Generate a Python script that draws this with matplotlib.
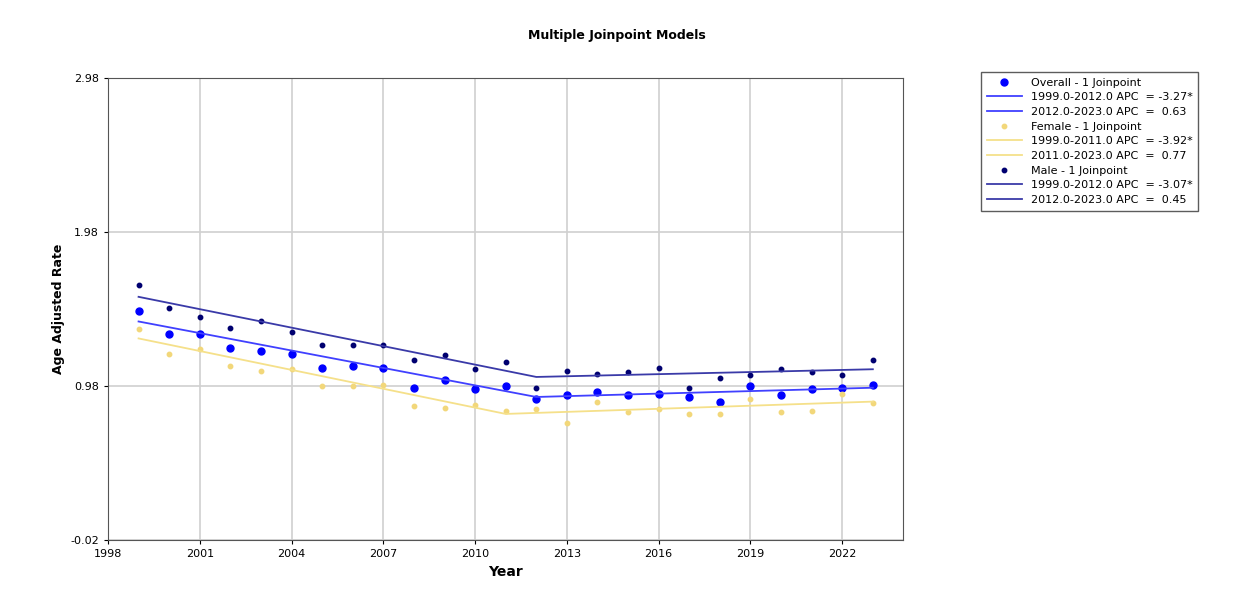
import matplotlib.pyplot as plt

years = list(range(1999, 2024))

overall = [1.47, 1.32, 1.32, 1.23, 1.21, 1.19, 1.10, 1.11, 1.10, 0.97, 1.02, 0.96, 0.98,
           0.90, 0.92, 0.94, 0.92, 0.93, 0.91, 0.88, 0.98, 0.92, 0.96, 0.97, 0.99]
female = [1.35, 1.19, 1.22, 1.11, 1.08, 1.09, 0.98, 0.98, 0.99, 0.85, 0.84, 0.86, 0.82,
          0.83, 0.74, 0.88, 0.81, 0.83, 0.80, 0.80, 0.90, 0.81, 0.82, 0.93, 0.87]
male = [1.64, 1.49, 1.43, 1.36, 1.40, 1.33, 1.25, 1.25, 1.25, 1.15, 1.18, 1.09, 1.14,
        0.97, 1.08, 1.06, 1.07, 1.10, 0.97, 1.03, 1.05, 1.09, 1.07, 1.05, 1.15]

# fitted values at start, joinpoint, end
overall_fit_x = [1999, 2012, 2023]
overall_fit_y = [1.40, 0.91, 0.97]
female_fit_x = [1999, 2011, 2023]
female_fit_y = [1.29, 0.80, 0.88]
male_fit_x = [1999, 2012, 2023]
male_fit_y = [1.56, 1.04, 1.09]

yticks = [-0.02, 0.98, 1.98, 2.98]
xticks = [1998, 2001, 2004, 2007, 2010, 2013, 2016, 2019, 2022]

fig = plt.figure(figsize=(12.41, 6.05), dpi=100)
ax = fig.add_axes([0.087, 0.107, 0.641, 0.764])

c_over, c_over_l = "#0000ff", "#4040ff"
c_fem, c_fem_l = "#f2d77a", "#f5e08a"
c_male, c_male_l = "#000070", "#3a3aa8"

p1, = ax.plot(years, overall, "o", color=c_over, ms=5, ls="none")
l1, = ax.plot(overall_fit_x, overall_fit_y, color=c_over_l, lw=1.3)
p2, = ax.plot(years, female, "o", color=c_fem, ms=3.2, ls="none")
l2, = ax.plot(female_fit_x, female_fit_y, color=c_fem_l, lw=1.3)
p3, = ax.plot(years, male, "o", color=c_male, ms=3.2, ls="none")
l3, = ax.plot(male_fit_x, male_fit_y, color=c_male_l, lw=1.3)

ax.set_xlim(1998, 2024)
ax.set_ylim(-0.02, 2.98)
ax.set_xticks(xticks)
ax.set_yticks(yticks)
ax.set_yticklabels([f"{v:.2f}" for v in yticks])
ax.tick_params(labelsize=8, length=3)
ax.grid(True, color="#d0d0d0", lw=1.2)
ax.set_axisbelow(True)
for s in ax.spines.values():
    s.set_color("#555555")

ax.set_xlabel("Year", fontsize=10, fontweight="bold")
ax.set_ylabel("Age Adjusted Rate", fontsize=9, fontweight="bold")
fig.text(0.497, 0.935, "Multiple Joinpoint Models", ha="center", fontsize=9, fontweight="bold")

handles = [p1, l1, l1, p2, l2, l2, p3, l3, l3]
labels = ["Overall - 1 Joinpoint", "1999.0-2012.0 APC  = -3.27*", "2012.0-2023.0 APC  =  0.63",
          "Female - 1 Joinpoint", "1999.0-2011.0 APC  = -3.92*", "2011.0-2023.0 APC  =  0.77",
          "Male - 1 Joinpoint", "1999.0-2012.0 APC  = -3.07*", "2012.0-2023.0 APC  =  0.45"]
leg = fig.legend(handles, labels, loc="upper left", bbox_to_anchor=(0.786, 0.89),
                 fontsize=8, frameon=True, fancybox=False, edgecolor="#333333",
                 handlelength=3.2, labelspacing=0.42, borderpad=0.5, handletextpad=0.8)

fig.savefig("out.png", dpi=100)
